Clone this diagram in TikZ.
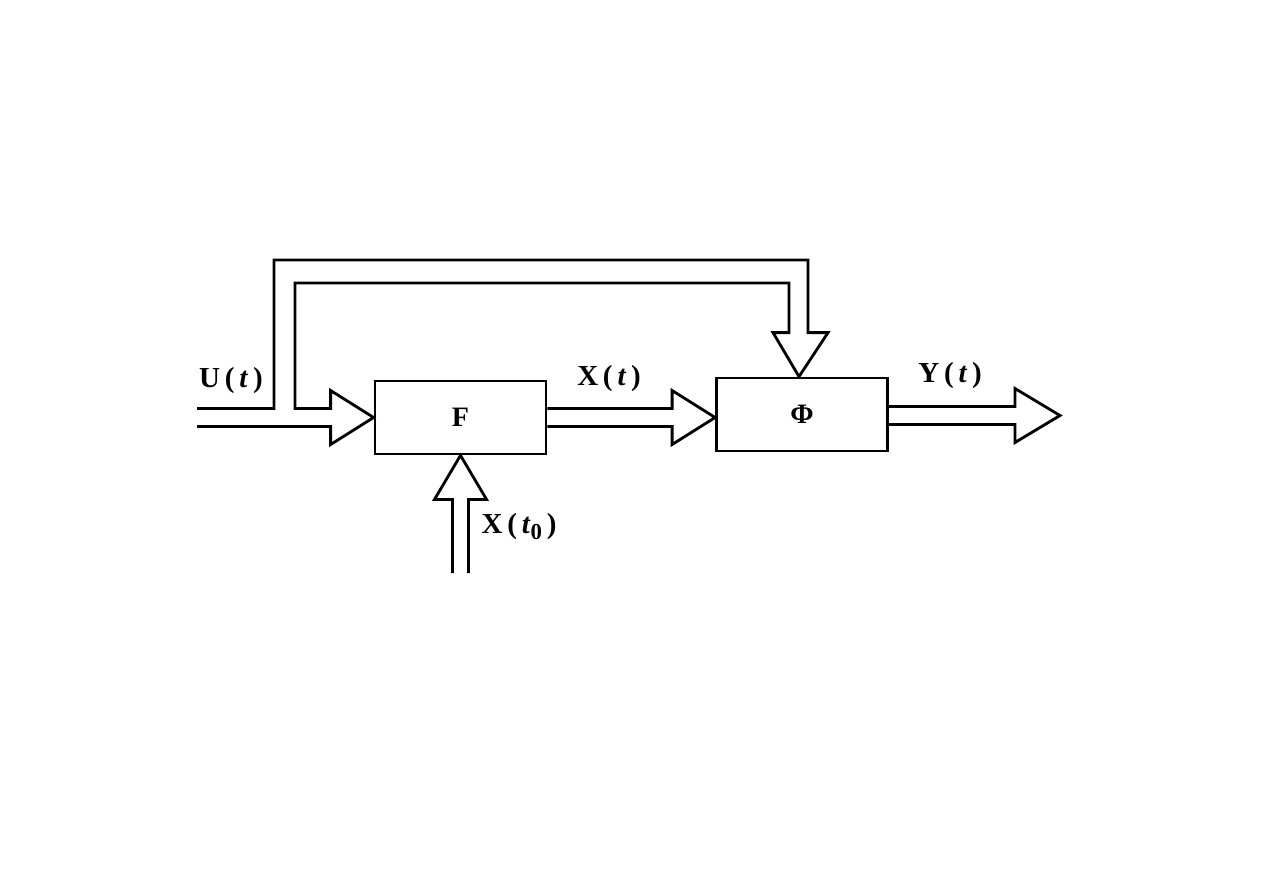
\documentclass[tikz,border=0pt]{standalone}
\usepackage{fontspec}
\setmainfont{Liberation Serif}
\usetikzlibrary{calc}

\newcommand{\sig}[2]{\textbf{#1}\,\textbf{(}\,\textbf{\textit{#2}}\,\textbf{)}}

\begin{document}
\begin{tikzpicture}[x=0.02cm,y=-0.02cm,
  block/.style={draw,line width=1.6pt,minimum width=3.42cm,minimum height=1.46cm,
    inner sep=0pt,font=\fontsize{16}{18}\selectfont\bfseries},
  hollow/.style={line width=1.6pt},
  lbl/.style={font=\fontsize{16.5}{18}\selectfont}]
  \useasboundingbox (0,0) rectangle (1263,893);

  % The two blocks.
  \node[block] (F) at (460.5,417.5) {F};
  \node[block] (Phi) at (802,414.5) {Φ};

  % Free ends of the inputs and the output.
  \coordinate (uin) at (197,417.5);
  \coordinate (xin) at (460.5,573);
  \coordinate (yout) at (1060,415.5);

  % U(t) feeds F and, over the top, Phi.
  \draw[hollow] ($(uin)+(0,-9)$) -| (274,260) -| ($(Phi.north)+(6,-44)$)
    -- ++(20,0) -- ($(Phi.north)+(-3,0)$) -- ++(-26,-44) -- ++(16,0)
    |- (295,283) |- ($(F.west)+(-43,-9)$) -- ++(0,-18) -- (F.west)
    -- ++(-43,27) -- ++(0,-18) -- ($(uin)+(0,9)$);

  % X(t) from F to Phi.
  \draw[hollow] ($(F.east)+(0,-9)$) -- ($(F.east -| Phi.west)+(-43,-9)$)
    -- ++(0,-18) -- (F.east -| Phi.west) -- ++(-43,27) -- ++(0,-18)
    -- ($(F.east)+(0,9)$);

  % Initial state into F.
  \draw[hollow] ($(xin)+(-8,0)$) -- ($(F.south)+(-8,44)$) -- ++(-18,0)
    -- (F.south) -- ++(26,44) -- ++(-18,0) -- ($(xin)+(8,0)$);

  % Y(t) out of Phi.
  \draw[hollow] ($(Phi.east |- yout)+(0,-9)$) -- ($(yout)+(-45,-9)$) -- ++(0,-18)
    -- (yout) -- ++(-45,27) -- ++(0,-18) -- ($(Phi.east |- yout)+(0,9)$);

  \node[lbl] (ulbl) at (231,381) {\sig{U}{t}};
  \node[lbl] (xlbl) at (609,379) {\sig{X}{t}};
  \node[lbl] (ylbl) at (950,376) {\sig{Y}{t}};
  \node[lbl] (x0lbl) at (519,527)
    {\textbf{X}\,\textbf{(}\,\textbf{\textit{t}}\raisebox{-0.45ex}{\fontsize{13}{13}\selectfont\bfseries 0}\,\textbf{)}};
\end{tikzpicture}
\end{document}
